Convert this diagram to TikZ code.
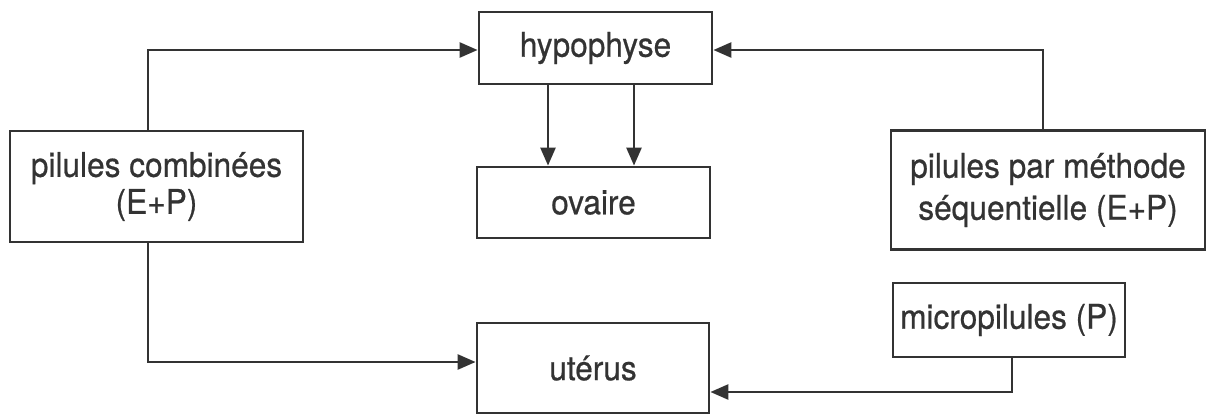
\documentclass[tikz,border=0pt]{standalone}
\usepackage{fontspec}
\setmainfont{TeX Gyre Heros}[FakeStretch=0.93,FakeBold=0.6]
\usetikzlibrary{arrows.meta}
\definecolor{ink}{HTML}{333333}
\begin{document}
\begin{tikzpicture}[x=1pt,y=-1pt,
  box/.style={draw=ink,line width=2.8pt,rectangle,inner sep=0pt,text=ink,align=center,
    font=\fontsize{34}{37}\selectfont},
  conn/.style={draw=ink,line width=2.6pt,-{Triangle[length=18pt,width=15pt]}}]
\useasboundingbox (0,0) rectangle (1210,415);
\node[box,minimum width=233pt,minimum height=72pt] (hyp) at (595.5,48) {hypophyse};
\node[box,minimum width=233pt,minimum height=71pt] (ova) at (593.5,202.5) {ovaire};
\node[box,minimum width=232pt,minimum height=90pt] (ute) at (593,368) {utérus};
\node[box,minimum width=293pt,minimum height=111pt] (pc) at (156.5,186.5) {pilules combinées\\(E+P)};
\node[box,minimum width=314pt,minimum height=119pt] (ps) at (1048,190) {pilules par méthode\\[5pt]séquentielle (E+P)};
\node[box,minimum width=232pt,minimum height=74pt] (mp) at (1009,320) {micropilules (P)};
\coordinate (k1) at (148,50);
\coordinate (k2) at (1043,50);
\coordinate (k3) at (148,362);
\coordinate (k4) at (1012,392);
\coordinate (d1) at (548,0);
\coordinate (d2) at (634,0);
\draw[conn] (pc.north -| k1) |- (hyp.west |- k1);
\draw[conn] (ps.north -| k2) |- (hyp.east |- k2);
\draw[conn] (pc.south -| k3) |- (ute.west |- k3);
\draw[conn] (mp.south -| k4) |- (ute.east |- k4);
\draw[conn] (hyp.south -| d1) -- (ova.north -| d1);
\draw[conn] (hyp.south -| d2) -- (ova.north -| d2);
\end{tikzpicture}
\end{document}
